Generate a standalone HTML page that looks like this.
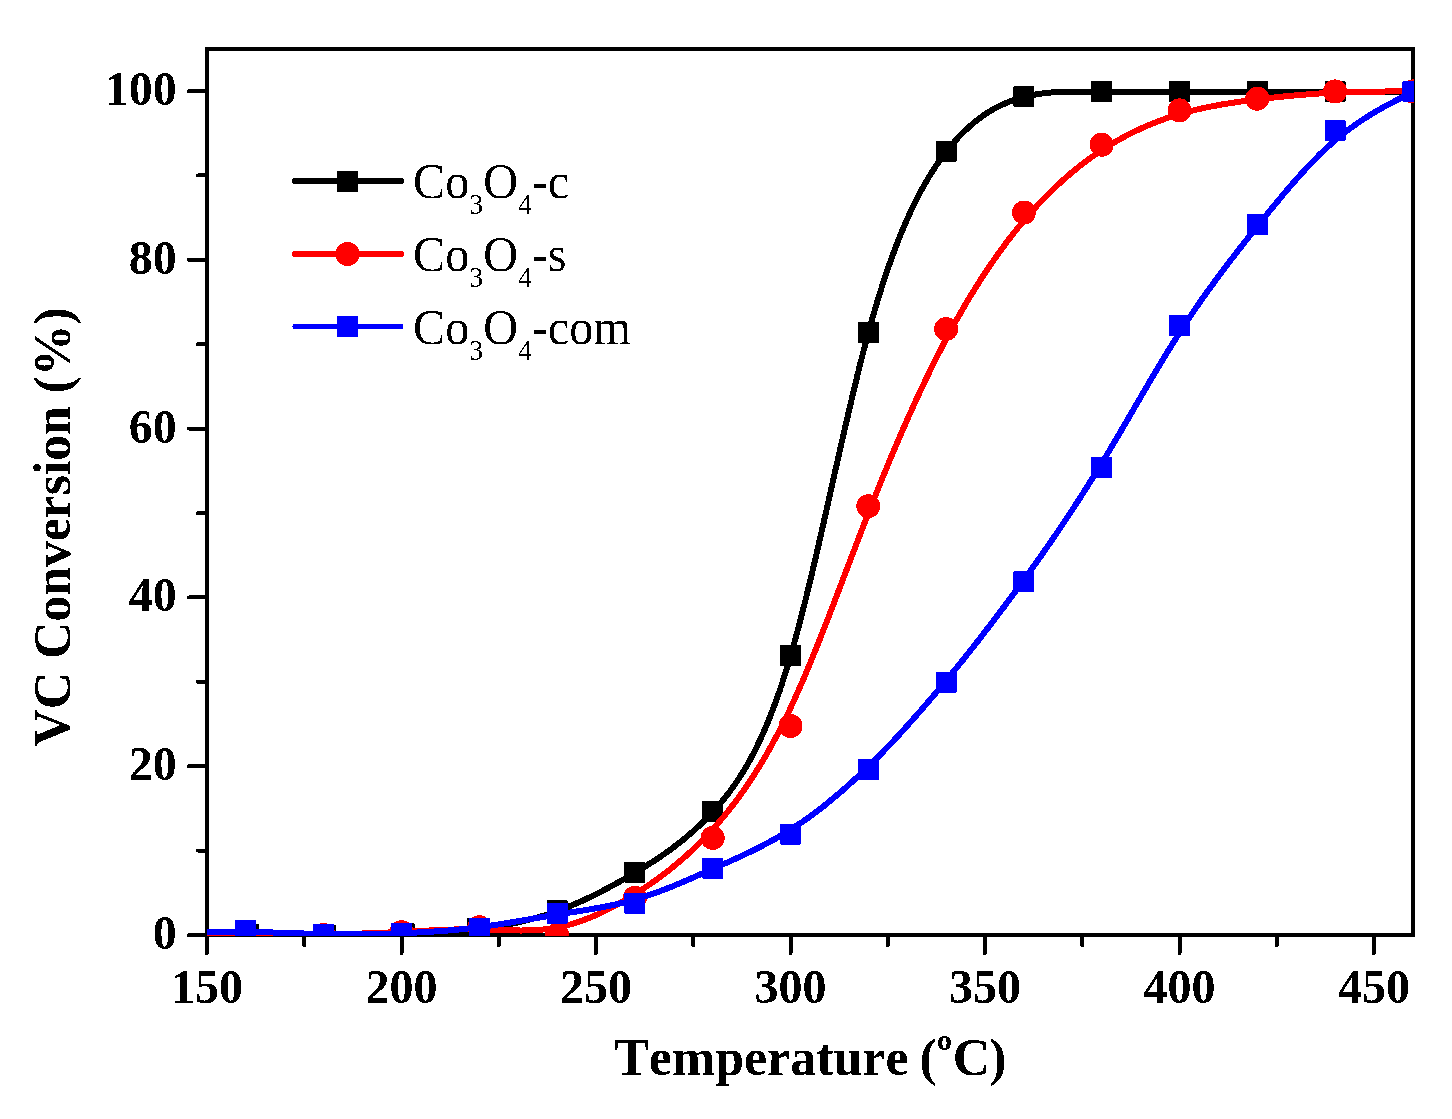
<!DOCTYPE html>
<html><head><meta charset="utf-8"><style>
html,body{margin:0;padding:0;background:#fff;}
svg{display:block;will-change:transform;}
text{font-family:"Liberation Serif",serif;font-kerning:none;}
</style></head><body>
<svg width="1452" height="1119" viewBox="0 0 1452 1119" shape-rendering="crispEdges">
<defs><filter id="cr" x="0" y="0" width="1" height="1" color-interpolation-filters="sRGB"><feComponentTransfer><feFuncA type="discrete" tableValues="0 1"/></feComponentTransfer></filter><clipPath id="pa"><rect x="207" y="47" width="1207" height="889"/></clipPath></defs>
<rect width="1452" height="1119" fill="#fff"/>
<g stroke="#000" stroke-width="4" stroke-linecap="round" fill="none">
<rect x="207" y="49" width="1206" height="886" stroke-linecap="square"/>
<line x1="189" y1="935.0" x2="207" y2="935.0"/>
<line x1="189" y1="766.2" x2="207" y2="766.2"/>
<line x1="189" y1="597.4" x2="207" y2="597.4"/>
<line x1="189" y1="428.6" x2="207" y2="428.6"/>
<line x1="189" y1="259.8" x2="207" y2="259.8"/>
<line x1="189" y1="91.0" x2="207" y2="91.0"/>
<line x1="198" y1="850.6" x2="207" y2="850.6"/>
<line x1="198" y1="681.8" x2="207" y2="681.8"/>
<line x1="198" y1="513.0" x2="207" y2="513.0"/>
<line x1="198" y1="344.2" x2="207" y2="344.2"/>
<line x1="198" y1="175.4" x2="207" y2="175.4"/>
<line x1="207.0" y1="935" x2="207.0" y2="953"/>
<line x1="401.5" y1="935" x2="401.5" y2="953"/>
<line x1="596.0" y1="935" x2="596.0" y2="953"/>
<line x1="790.5" y1="935" x2="790.5" y2="953"/>
<line x1="985.0" y1="935" x2="985.0" y2="953"/>
<line x1="1179.5" y1="935" x2="1179.5" y2="953"/>
<line x1="1374.0" y1="935" x2="1374.0" y2="953"/>
<line x1="304.2" y1="935" x2="304.2" y2="945"/>
<line x1="498.8" y1="935" x2="498.8" y2="945"/>
<line x1="693.2" y1="935" x2="693.2" y2="945"/>
<line x1="887.8" y1="935" x2="887.8" y2="945"/>
<line x1="1082.2" y1="935" x2="1082.2" y2="945"/>
<line x1="1276.8" y1="935" x2="1276.8" y2="945"/>
</g>
<g clip-path="url(#pa)">
<path transform="translate(0,0.6)" d="M168.1,934.2 L169.1,934.2 L170.0,934.1 L171.0,934.1 L171.9,934.1 L172.9,934.1 L173.8,934.1 L174.8,934.1 L175.8,934.1 L176.7,934.1 L177.7,934.1 L178.6,934.1 L179.6,934.1 L180.5,934.1 L181.5,934.1 L182.5,934.1 L183.4,934.1 L184.4,934.1 L185.3,934.1 L186.3,934.1 L187.3,934.1 L188.2,934.1 L189.2,934.1 L190.1,934.1 L191.1,934.1 L192.0,934.0 L193.0,934.0 L194.0,934.0 L194.9,934.0 L195.9,934.0 L196.8,934.0 L197.8,934.0 L198.7,934.0 L199.7,934.0 L200.7,934.0 L201.6,934.0 L202.6,934.0 L203.5,934.0 L204.5,934.0 L205.4,934.0 L206.4,934.0 L207.4,934.0 L208.3,934.0 L209.3,934.0 L210.2,934.0 L211.2,934.0 L212.1,934.0 L213.1,934.0 L214.1,934.0 L215.0,934.0 L216.0,934.0 L216.9,934.0 L217.9,934.0 L218.8,934.0 L219.8,934.0 L220.8,934.0 L221.7,934.0 L222.7,934.0 L223.6,934.0 L224.6,934.0 L225.6,934.0 L226.5,934.0 L227.5,934.0 L228.4,934.0 L229.4,934.0 L230.3,934.0 L231.3,934.0 L232.3,934.1 L233.2,934.1 L234.2,934.1 L235.1,934.1 L236.1,934.1 L237.0,934.1 L238.0,934.1 L239.0,934.1 L239.9,934.1 L240.9,934.1 L241.8,934.1 L242.8,934.1 L243.7,934.1 L244.7,934.1 L245.7,934.2 L246.6,934.2 L247.6,934.2 L248.5,934.2 L249.5,934.2 L250.4,934.2 L251.4,934.2 L252.4,934.2 L253.3,934.2 L254.3,934.3 L255.2,934.3 L256.2,934.3 L257.2,934.3 L258.1,934.3 L259.1,934.3 L260.0,934.3 L261.0,934.3 L261.9,934.4 L262.9,934.4 L263.9,934.4 L264.8,934.4 L265.8,934.4 L266.7,934.4 L267.7,934.4 L268.6,934.5 L269.6,934.5 L270.6,934.5 L271.5,934.5 L272.5,934.5 L273.4,934.5 L274.4,934.5 L275.3,934.6 L276.3,934.6 L277.3,934.6 L278.2,934.6 L279.2,934.6 L280.1,934.6 L281.1,934.6 L282.0,934.7 L283.0,934.7 L284.0,934.7 L284.9,934.7 L285.9,934.7 L286.8,934.7 L287.8,934.7 L288.7,934.7 L289.7,934.8 L290.7,934.8 L291.6,934.8 L292.6,934.8 L293.5,934.8 L294.5,934.8 L295.5,934.8 L296.4,934.8 L297.4,934.9 L298.3,934.9 L299.3,934.9 L300.2,934.9 L301.2,934.9 L302.2,934.9 L303.1,934.9 L304.1,934.9 L305.0,934.9 L306.0,934.9 L306.9,934.9 L307.9,935.0 L308.9,935.0 L309.8,935.0 L310.8,935.0 L311.7,935.0 L312.7,935.0 L313.6,935.0 L314.6,935.0 L315.6,935.0 L316.5,935.0 L317.5,935.0 L318.4,935.0 L319.4,935.0 L320.3,935.0 L321.3,935.0 L322.3,935.0 L323.2,935.0 L324.2,935.0 L325.1,935.0 L326.1,935.0 L327.1,935.0 L328.0,935.0 L329.0,935.0 L329.9,935.0 L330.9,935.0 L331.8,935.0 L332.8,935.0 L333.8,934.9 L334.7,934.9 L335.7,934.9 L336.6,934.9 L337.6,934.9 L338.5,934.9 L339.5,934.9 L340.5,934.9 L341.4,934.9 L342.4,934.9 L343.3,934.8 L344.3,934.8 L345.2,934.8 L346.2,934.8 L347.2,934.8 L348.1,934.8 L349.1,934.7 L350.0,934.7 L351.0,934.7 L351.9,934.7 L352.9,934.7 L353.9,934.7 L354.8,934.6 L355.8,934.6 L356.7,934.6 L357.7,934.6 L358.7,934.6 L359.6,934.5 L360.6,934.5 L361.5,934.5 L362.5,934.5 L363.4,934.5 L364.4,934.4 L365.4,934.4 L366.3,934.4 L367.3,934.4 L368.2,934.3 L369.2,934.3 L370.1,934.3 L371.1,934.3 L372.1,934.2 L373.0,934.2 L374.0,934.2 L374.9,934.2 L375.9,934.1 L376.8,934.1 L377.8,934.1 L378.8,934.0 L379.7,934.0 L380.7,934.0 L381.6,934.0 L382.6,933.9 L383.5,933.9 L384.5,933.9 L385.5,933.8 L386.4,933.8 L387.4,933.8 L388.3,933.8 L389.3,933.7 L390.2,933.7 L391.2,933.7 L392.2,933.6 L393.1,933.6 L394.1,933.6 L395.0,933.5 L396.0,933.5 L397.0,933.5 L397.9,933.4 L398.9,933.4 L399.8,933.4 L400.8,933.3 L401.7,933.3 L402.7,933.3 L403.7,933.2 L404.6,933.2 L405.6,933.2 L406.5,933.1 L407.5,933.1 L408.4,933.1 L409.4,933.0 L410.4,933.0 L411.3,933.0 L412.3,932.9 L413.2,932.9 L414.2,932.9 L415.1,932.8 L416.1,932.8 L417.1,932.7 L418.0,932.7 L419.0,932.7 L419.9,932.6 L420.9,932.6 L421.8,932.5 L422.8,932.5 L423.8,932.5 L424.7,932.4 L425.7,932.4 L426.6,932.3 L427.6,932.3 L428.6,932.2 L429.5,932.2 L430.5,932.2 L431.4,932.1 L432.4,932.1 L433.3,932.0 L434.3,932.0 L435.3,931.9 L436.2,931.9 L437.2,931.8 L438.1,931.7 L439.1,931.7 L440.0,931.6 L441.0,931.6 L442.0,931.5 L442.9,931.5 L443.9,931.4 L444.8,931.3 L445.8,931.3 L446.7,931.2 L447.7,931.2 L448.7,931.1 L449.6,931.0 L450.6,931.0 L451.5,930.9 L452.5,930.8 L453.4,930.7 L454.4,930.7 L455.4,930.6 L456.3,930.5 L457.3,930.4 L458.2,930.4 L459.2,930.3 L460.1,930.2 L461.1,930.1 L462.1,930.0 L463.0,930.0 L464.0,929.9 L464.9,929.8 L465.9,929.7 L466.9,929.6 L467.8,929.5 L468.8,929.4 L469.7,929.3 L470.7,929.2 L471.6,929.1 L472.6,929.0 L473.6,928.9 L474.5,928.8 L475.5,928.7 L476.4,928.6 L477.4,928.5 L478.3,928.4 L479.3,928.2 L480.3,928.1 L481.2,928.0 L482.2,927.9 L483.1,927.8 L484.1,927.6 L485.0,927.5 L486.0,927.4 L487.0,927.3 L487.9,927.1 L488.9,927.0 L489.8,926.9 L490.8,926.7 L491.7,926.6 L492.7,926.4 L493.7,926.3 L494.6,926.1 L495.6,926.0 L496.5,925.8 L497.5,925.7 L498.5,925.5 L499.4,925.4 L500.4,925.2 L501.3,925.0 L502.3,924.9 L503.2,924.7 L504.2,924.5 L505.2,924.4 L506.1,924.2 L507.1,924.0 L508.0,923.8 L509.0,923.6 L509.9,923.5 L510.9,923.3 L511.9,923.1 L512.8,922.9 L513.8,922.7 L514.7,922.5 L515.7,922.3 L516.6,922.1 L517.6,921.9 L518.6,921.7 L519.5,921.4 L520.5,921.2 L521.4,921.0 L522.4,920.8 L523.3,920.6 L524.3,920.3 L525.3,920.1 L526.2,919.9 L527.2,919.6 L528.1,919.4 L529.1,919.1 L530.0,918.9 L531.0,918.6 L532.0,918.4 L532.9,918.1 L533.9,917.9 L534.8,917.6 L535.8,917.3 L536.8,917.1 L537.7,916.8 L538.7,916.5 L539.6,916.2 L540.6,916.0 L541.5,915.7 L542.5,915.4 L543.5,915.1 L544.4,914.8 L545.4,914.5 L546.3,914.2 L547.3,913.9 L548.2,913.6 L549.2,913.3 L550.2,912.9 L551.1,912.6 L552.1,912.3 L553.0,912.0 L554.0,911.6 L554.9,911.3 L555.9,911.0 L556.9,910.6 L557.8,910.3 L558.8,909.9 L559.7,909.6 L560.7,909.2 L561.6,908.8 L562.6,908.5 L563.6,908.1 L564.5,907.7 L565.5,907.3 L566.4,907.0 L567.4,906.6 L568.4,906.2 L569.3,905.8 L570.3,905.4 L571.2,905.0 L572.2,904.6 L573.1,904.2 L574.1,903.8 L575.1,903.4 L576.0,903.0 L577.0,902.5 L577.9,902.1 L578.9,901.7 L579.8,901.3 L580.8,900.8 L581.8,900.4 L582.7,900.0 L583.7,899.5 L584.6,899.1 L585.6,898.6 L586.5,898.2 L587.5,897.7 L588.5,897.3 L589.4,896.8 L590.4,896.4 L591.3,895.9 L592.3,895.4 L593.2,895.0 L594.2,894.5 L595.2,894.0 L596.1,893.5 L597.1,893.0 L598.0,892.6 L599.0,892.1 L599.9,891.6 L600.9,891.1 L601.9,890.6 L602.8,890.1 L603.8,889.6 L604.7,889.1 L605.7,888.6 L606.7,888.1 L607.6,887.6 L608.6,887.1 L609.5,886.5 L610.5,886.0 L611.4,885.5 L612.4,885.0 L613.4,884.5 L614.3,883.9 L615.3,883.4 L616.2,882.9 L617.2,882.3 L618.1,881.8 L619.1,881.3 L620.1,880.7 L621.0,880.2 L622.0,879.6 L622.9,879.1 L623.9,878.6 L624.8,878.0 L625.8,877.5 L626.8,876.9 L627.7,876.3 L628.7,875.8 L629.6,875.2 L630.6,874.7 L631.5,874.1 L632.5,873.5 L633.5,873.0 L634.4,872.4 L635.4,871.8 L636.3,871.3 L637.3,870.7 L638.3,870.1 L639.2,869.5 L640.2,869.0 L641.1,868.4 L642.1,867.8 L643.0,867.2 L644.0,866.6 L645.0,866.0 L645.9,865.4 L646.9,864.8 L647.8,864.2 L648.8,863.6 L649.7,863.0 L650.7,862.4 L651.7,861.8 L652.6,861.2 L653.6,860.6 L654.5,859.9 L655.5,859.3 L656.4,858.7 L657.4,858.1 L658.4,857.4 L659.3,856.8 L660.3,856.1 L661.2,855.5 L662.2,854.8 L663.1,854.2 L664.1,853.5 L665.1,852.8 L666.0,852.1 L667.0,851.5 L667.9,850.8 L668.9,850.1 L669.9,849.4 L670.8,848.7 L671.8,848.0 L672.7,847.3 L673.7,846.6 L674.6,845.8 L675.6,845.1 L676.6,844.4 L677.5,843.6 L678.5,842.9 L679.4,842.1 L680.4,841.4 L681.3,840.6 L682.3,839.8 L683.3,839.1 L684.2,838.3 L685.2,837.5 L686.1,836.7 L687.1,835.9 L688.0,835.1 L689.0,834.2 L690.0,833.4 L690.9,832.6 L691.9,831.7 L692.8,830.9 L693.8,830.0 L694.7,829.2 L695.7,828.3 L696.7,827.4 L697.6,826.5 L698.6,825.6 L699.5,824.7 L700.5,823.8 L701.4,822.9 L702.4,821.9 L703.4,821.0 L704.3,820.1 L705.3,819.1 L706.2,818.1 L707.2,817.2 L708.2,816.2 L709.1,815.2 L710.1,814.2 L711.0,813.2 L712.0,812.1 L712.9,811.1 L713.9,810.1 L714.9,809.0 L715.8,807.9 L716.8,806.9 L717.7,805.8 L718.7,804.7 L719.6,803.6 L720.6,802.4 L721.6,801.3 L722.5,800.1 L723.5,799.0 L724.4,797.8 L725.4,796.6 L726.3,795.4 L727.3,794.2 L728.3,792.9 L729.2,791.7 L730.2,790.4 L731.1,789.1 L732.1,787.8 L733.0,786.4 L734.0,785.1 L735.0,783.7 L735.9,782.3 L736.9,780.9 L737.8,779.5 L738.8,778.0 L739.8,776.5 L740.7,775.0 L741.7,773.5 L742.6,772.0 L743.6,770.4 L744.5,768.8 L745.5,767.2 L746.5,765.6 L747.4,763.9 L748.4,762.2 L749.3,760.5 L750.3,758.7 L751.2,757.0 L752.2,755.2 L753.2,753.3 L754.1,751.5 L755.1,749.6 L756.0,747.7 L757.0,745.7 L757.9,743.8 L758.9,741.8 L759.9,739.7 L760.8,737.7 L761.8,735.6 L762.7,733.4 L763.7,731.3 L764.6,729.1 L765.6,726.8 L766.6,724.6 L767.5,722.3 L768.5,720.0 L769.4,717.6 L770.4,715.2 L771.3,712.7 L772.3,710.3 L773.3,707.7 L774.2,705.2 L775.2,702.6 L776.1,700.0 L777.1,697.3 L778.1,694.6 L779.0,691.9 L780.0,689.1 L780.9,686.2 L781.9,683.4 L782.8,680.5 L783.8,677.5 L784.8,674.5 L785.7,671.5 L786.7,668.4 L787.6,665.3 L788.6,662.1 L789.5,658.9 L790.5,655.6 L791.5,652.3 L792.4,649.0 L793.4,645.6 L794.3,642.2 L795.3,638.7 L796.2,635.2 L797.2,631.6 L798.2,628.0 L799.1,624.4 L800.1,620.7 L801.0,617.0 L802.0,613.3 L802.9,609.5 L803.9,605.7 L804.9,601.9 L805.8,598.0 L806.8,594.2 L807.7,590.2 L808.7,586.3 L809.7,582.3 L810.6,578.3 L811.6,574.3 L812.5,570.3 L813.5,566.2 L814.4,562.1 L815.4,558.0 L816.4,553.9 L817.3,549.8 L818.3,545.6 L819.2,541.5 L820.2,537.3 L821.1,533.1 L822.1,528.9 L823.1,524.7 L824.0,520.4 L825.0,516.2 L825.9,511.9 L826.9,507.7 L827.8,503.4 L828.8,499.2 L829.8,494.9 L830.7,490.6 L831.7,486.4 L832.6,482.1 L833.6,477.8 L834.5,473.6 L835.5,469.3 L836.5,465.0 L837.4,460.8 L838.4,456.5 L839.3,452.3 L840.3,448.0 L841.2,443.8 L842.2,439.6 L843.2,435.4 L844.1,431.2 L845.1,427.0 L846.0,422.8 L847.0,418.7 L848.0,414.6 L848.9,410.4 L849.9,406.3 L850.8,402.3 L851.8,398.2 L852.7,394.2 L853.7,390.1 L854.7,386.1 L855.6,382.2 L856.6,378.2 L857.5,374.3 L858.5,370.4 L859.4,366.6 L860.4,362.7 L861.4,358.9 L862.3,355.2 L863.3,351.4 L864.2,347.7 L865.2,344.0 L866.1,340.4 L867.1,336.8 L868.1,333.3 L869.0,329.7 L870.0,326.3 L870.9,322.8 L871.9,319.4 L872.8,316.1 L873.8,312.7 L874.8,309.5 L875.7,306.2 L876.7,303.0 L877.6,299.8 L878.6,296.7 L879.6,293.6 L880.5,290.5 L881.5,287.5 L882.4,284.5 L883.4,281.5 L884.3,278.6 L885.3,275.7 L886.3,272.9 L887.2,270.1 L888.2,267.3 L889.1,264.5 L890.1,261.8 L891.0,259.1 L892.0,256.5 L893.0,253.8 L893.9,251.3 L894.9,248.7 L895.8,246.2 L896.8,243.7 L897.7,241.2 L898.7,238.8 L899.7,236.4 L900.6,234.0 L901.6,231.7 L902.5,229.4 L903.5,227.1 L904.4,224.8 L905.4,222.6 L906.4,220.4 L907.3,218.3 L908.3,216.1 L909.2,214.0 L910.2,211.9 L911.1,209.9 L912.1,207.9 L913.1,205.9 L914.0,203.9 L915.0,202.0 L915.9,200.0 L916.9,198.1 L917.9,196.3 L918.8,194.4 L919.8,192.6 L920.7,190.8 L921.7,189.0 L922.6,187.3 L923.6,185.6 L924.6,183.9 L925.5,182.2 L926.5,180.5 L927.4,178.9 L928.4,177.3 L929.3,175.7 L930.3,174.2 L931.3,172.6 L932.2,171.1 L933.2,169.6 L934.1,168.1 L935.1,166.7 L936.0,165.2 L937.0,163.8 L938.0,162.4 L938.9,161.0 L939.9,159.7 L940.8,158.3 L941.8,157.0 L942.7,155.7 L943.7,154.4 L944.7,153.1 L945.6,151.9 L946.6,150.6 L947.5,149.4 L948.5,148.2 L949.5,147.0 L950.4,145.9 L951.4,144.7 L952.3,143.6 L953.3,142.5 L954.2,141.4 L955.2,140.3 L956.2,139.2 L957.1,138.2 L958.1,137.1 L959.0,136.1 L960.0,135.1 L960.9,134.1 L961.9,133.1 L962.9,132.2 L963.8,131.2 L964.8,130.3 L965.7,129.4 L966.7,128.5 L967.6,127.6 L968.6,126.7 L969.6,125.8 L970.5,125.0 L971.5,124.2 L972.4,123.3 L973.4,122.5 L974.3,121.7 L975.3,121.0 L976.3,120.2 L977.2,119.4 L978.2,118.7 L979.1,118.0 L980.1,117.3 L981.1,116.6 L982.0,115.9 L983.0,115.2 L983.9,114.5 L984.9,113.9 L985.8,113.3 L986.8,112.6 L987.8,112.0 L988.7,111.4 L989.7,110.8 L990.6,110.2 L991.6,109.7 L992.5,109.1 L993.5,108.6 L994.5,108.0 L995.4,107.5 L996.4,107.0 L997.3,106.5 L998.3,106.0 L999.2,105.5 L1000.2,105.1 L1001.2,104.6 L1002.1,104.2 L1003.1,103.7 L1004.0,103.3 L1005.0,102.9 L1005.9,102.5 L1006.9,102.1 L1007.9,101.7 L1008.8,101.3 L1009.8,100.9 L1010.7,100.6 L1011.7,100.2 L1012.6,99.8 L1013.6,99.5 L1014.6,99.2 L1015.5,98.9 L1016.5,98.6 L1017.4,98.2 L1018.4,98.0 L1019.4,97.7 L1020.3,97.4 L1021.3,97.1 L1022.2,96.8 L1023.2,96.6 L1024.1,96.3 L1025.1,96.1 L1026.1,95.9 L1027.0,95.6 L1028.0,95.4 L1028.9,95.2 L1029.9,95.0 L1030.8,94.8 L1031.8,94.6 L1032.8,94.4 L1033.7,94.2 L1034.7,94.0 L1035.6,93.9 L1036.6,93.7 L1037.5,93.6 L1038.5,93.4 L1039.5,93.3 L1040.4,93.1 L1041.4,93.0 L1042.3,92.9 L1043.3,92.7 L1044.2,92.6 L1045.2,92.5 L1046.2,92.4 L1047.1,92.3 L1048.1,92.2 L1049.0,92.1 L1050.0,92.0 L1051.0,91.9 L1051.9,91.8 L1052.9,91.8 L1053.8,91.7 L1054.8,91.6 L1055.7,91.6 L1056.7,91.5 L1057.7,91.5 L1058.6,91.4 L1059.6,91.4 L1060.5,91.3 L1061.5,91.3 L1062.4,91.2 L1063.4,91.2 L1064.4,91.2 L1065.3,91.1 L1066.3,91.1 L1067.2,91.1 L1068.2,91.1 L1069.1,91.1 L1070.1,91.0 L1071.1,91.0 L1072.0,91.0 L1073.0,91.0 L1073.9,91.0 L1074.9,91.0 L1075.8,91.0 L1076.8,91.0 L1077.8,91.0 L1078.7,91.0 L1079.7,91.0 L1080.6,91.0 L1081.6,91.1 L1082.5,91.1 L1083.5,91.1 L1084.5,91.1 L1085.4,91.1 L1086.4,91.1 L1087.3,91.1 L1088.3,91.2 L1089.3,91.2 L1090.2,91.2 L1091.2,91.2 L1092.1,91.2 L1093.1,91.2 L1094.0,91.3 L1095.0,91.3 L1096.0,91.3 L1096.9,91.3 L1097.9,91.3 L1098.8,91.4 L1099.8,91.4 L1100.7,91.4 L1101.7,91.4 L1102.7,91.4 L1103.6,91.5 L1104.6,91.5 L1105.5,91.5 L1106.5,91.5 L1107.4,91.5 L1108.4,91.5 L1109.4,91.5 L1110.3,91.5 L1111.3,91.6 L1112.2,91.6 L1113.2,91.6 L1114.1,91.6 L1115.1,91.6 L1116.1,91.6 L1117.0,91.6 L1118.0,91.6 L1118.9,91.6 L1119.9,91.6 L1120.9,91.6 L1121.8,91.6 L1122.8,91.6 L1123.7,91.6 L1124.7,91.6 L1125.6,91.7 L1126.6,91.7 L1127.6,91.7 L1128.5,91.7 L1129.5,91.7 L1130.4,91.7 L1131.4,91.7 L1132.3,91.7 L1133.3,91.7 L1134.3,91.7 L1135.2,91.7 L1136.2,91.7 L1137.1,91.7 L1138.1,91.7 L1139.0,91.6 L1140.0,91.6 L1141.0,91.6 L1141.9,91.6 L1142.9,91.6 L1143.8,91.6 L1144.8,91.6 L1145.7,91.6 L1146.7,91.6 L1147.7,91.6 L1148.6,91.6 L1149.6,91.6 L1150.5,91.6 L1151.5,91.6 L1152.4,91.6 L1153.4,91.6 L1154.4,91.6 L1155.3,91.6 L1156.3,91.6 L1157.2,91.6 L1158.2,91.6 L1159.2,91.5 L1160.1,91.5 L1161.1,91.5 L1162.0,91.5 L1163.0,91.5 L1163.9,91.5 L1164.9,91.5 L1165.9,91.5 L1166.8,91.5 L1167.8,91.5 L1168.7,91.5 L1169.7,91.5 L1170.6,91.5 L1171.6,91.5 L1172.6,91.5 L1173.5,91.5 L1174.5,91.4 L1175.4,91.4 L1176.4,91.4 L1177.3,91.4 L1178.3,91.4 L1179.3,91.4 L1180.2,91.4 L1181.2,91.4 L1182.1,91.4 L1183.1,91.4 L1184.0,91.4 L1185.0,91.4 L1186.0,91.4 L1186.9,91.4 L1187.9,91.4 L1188.8,91.4 L1189.8,91.4 L1190.8,91.4 L1191.7,91.4 L1192.7,91.4 L1193.6,91.4 L1194.6,91.4 L1195.5,91.4 L1196.5,91.4 L1197.5,91.4 L1198.4,91.4 L1199.4,91.4 L1200.3,91.4 L1201.3,91.4 L1202.2,91.4 L1203.2,91.4 L1204.2,91.4 L1205.1,91.4 L1206.1,91.4 L1207.0,91.4 L1208.0,91.4 L1208.9,91.4 L1209.9,91.4 L1210.9,91.4 L1211.8,91.4 L1212.8,91.4 L1213.7,91.4 L1214.7,91.4 L1215.6,91.4 L1216.6,91.4 L1217.6,91.4 L1218.5,91.4 L1219.5,91.4 L1220.4,91.4 L1221.4,91.4 L1222.3,91.4 L1223.3,91.4 L1224.3,91.4 L1225.2,91.4 L1226.2,91.4 L1227.1,91.4 L1228.1,91.4 L1229.1,91.4 L1230.0,91.4 L1231.0,91.4 L1231.9,91.4 L1232.9,91.4 L1233.8,91.4 L1234.8,91.4 L1235.8,91.4 L1236.7,91.4 L1237.7,91.4 L1238.6,91.4 L1239.6,91.4 L1240.5,91.4 L1241.5,91.4 L1242.5,91.4 L1243.4,91.4 L1244.4,91.4 L1245.3,91.4 L1246.3,91.4 L1247.2,91.4 L1248.2,91.4 L1249.2,91.4 L1250.1,91.4 L1251.1,91.4 L1252.0,91.4 L1253.0,91.4 L1253.9,91.4 L1254.9,91.4 L1255.9,91.4 L1256.8,91.4 L1257.8,91.4 L1258.7,91.4 L1259.7,91.4 L1260.7,91.4 L1261.6,91.4 L1262.6,91.4 L1263.5,91.4 L1264.5,91.4 L1265.4,91.4 L1266.4,91.4 L1267.4,91.4 L1268.3,91.4 L1269.3,91.4 L1270.2,91.4 L1271.2,91.4 L1272.1,91.4 L1273.1,91.4 L1274.1,91.4 L1275.0,91.4 L1276.0,91.4 L1276.9,91.4 L1277.9,91.4 L1278.8,91.4 L1279.8,91.4 L1280.8,91.4 L1281.7,91.4 L1282.7,91.4 L1283.6,91.4 L1284.6,91.4 L1285.5,91.4 L1286.5,91.4 L1287.5,91.4 L1288.4,91.4 L1289.4,91.4 L1290.3,91.4 L1291.3,91.4 L1292.3,91.4 L1293.2,91.4 L1294.2,91.4 L1295.1,91.4 L1296.1,91.4 L1297.0,91.4 L1298.0,91.4 L1299.0,91.4 L1299.9,91.4 L1300.9,91.4 L1301.8,91.4 L1302.8,91.4 L1303.7,91.4 L1304.7,91.4 L1305.7,91.4 L1306.6,91.4 L1307.6,91.4 L1308.5,91.4 L1309.5,91.4 L1310.4,91.4 L1311.4,91.4 L1312.4,91.4 L1313.3,91.4 L1314.3,91.4 L1315.2,91.4 L1316.2,91.4 L1317.1,91.4 L1318.1,91.4 L1319.1,91.4 L1320.0,91.4 L1321.0,91.4 L1321.9,91.4 L1322.9,91.4 L1323.8,91.4 L1324.8,91.4 L1325.8,91.4 L1326.7,91.4 L1327.7,91.4 L1328.6,91.4 L1329.6,91.4 L1330.6,91.4 L1331.5,91.4 L1332.5,91.4 L1333.4,91.4 L1334.4,91.4 L1335.3,91.4 L1336.3,91.4 L1337.3,91.4 L1338.2,91.4 L1339.2,91.4 L1340.1,91.4 L1341.1,91.4 L1342.0,91.4 L1343.0,91.4 L1344.0,91.4 L1344.9,91.4 L1345.9,91.4 L1346.8,91.4 L1347.8,91.4 L1348.7,91.4 L1349.7,91.4 L1350.7,91.4 L1351.6,91.4 L1352.6,91.4 L1353.5,91.4 L1354.5,91.4 L1355.4,91.4 L1356.4,91.4 L1357.4,91.4 L1358.3,91.4 L1359.3,91.4 L1360.2,91.4 L1361.2,91.4 L1362.2,91.4 L1363.1,91.4 L1364.1,91.4 L1365.0,91.4 L1366.0,91.4 L1366.9,91.4 L1367.9,91.4 L1368.9,91.4 L1369.8,91.4 L1370.8,91.4 L1371.7,91.4 L1372.7,91.4 L1373.6,91.4 L1374.6,91.4 L1375.6,91.4 L1376.5,91.4 L1377.5,91.4 L1378.4,91.4 L1379.4,91.4 L1380.3,91.4 L1381.3,91.4 L1382.3,91.4 L1383.2,91.4 L1384.2,91.4 L1385.1,91.4 L1386.1,91.4 L1387.0,91.4 L1388.0,91.4 L1389.0,91.4 L1389.9,91.4 L1390.9,91.4 L1391.8,91.4 L1392.8,91.4 L1393.7,91.4 L1394.7,91.4 L1395.7,91.4 L1396.6,91.4 L1397.6,91.4 L1398.5,91.4 L1399.5,91.4 L1400.5,91.4 L1401.4,91.4 L1402.4,91.4 L1403.3,91.4 L1404.3,91.4 L1405.2,91.4 L1406.2,91.4 L1407.2,91.4 L1408.1,91.4 L1409.1,91.4 L1410.0,91.4 L1411.0,91.4 L1411.9,91.4 L1412.9,91.4" stroke="#000" stroke-width="6" fill="none" stroke-linejoin="round"/>
<rect x="237.9" y="923.7" width="21" height="21" rx="1" fill="#000"/>
<rect x="315.2" y="924.5" width="21" height="21" rx="1" fill="#000"/>
<rect x="393.5" y="922.8" width="21" height="21" rx="1" fill="#000"/>
<rect x="467.3" y="917.7" width="21" height="21" rx="1" fill="#000"/>
<rect x="546.6" y="900.0" width="21" height="21" rx="1" fill="#000"/>
<rect x="624.4" y="861.6" width="21" height="21" rx="1" fill="#000"/>
<rect x="702.2" y="800.9" width="21" height="21" rx="1" fill="#000"/>
<rect x="780.0" y="645.1" width="21" height="21" rx="1" fill="#000"/>
<rect x="857.8" y="321.9" width="21" height="21" rx="1" fill="#000"/>
<rect x="935.6" y="140.8" width="21" height="21" rx="1" fill="#000"/>
<rect x="1013.4" y="85.9" width="21" height="21" rx="1" fill="#000"/>
<rect x="1091.2" y="80.9" width="21" height="21" rx="1" fill="#000"/>
<rect x="1169.0" y="80.9" width="21" height="21" rx="1" fill="#000"/>
<rect x="1246.8" y="80.9" width="21" height="21" rx="1" fill="#000"/>
<rect x="1324.6" y="80.9" width="21" height="21" rx="1" fill="#000"/>
<rect x="1402.4" y="80.9" width="21" height="21" rx="1" fill="#000"/>
<path d="M168.1,935.0 L168.1,935.0 L168.1,935.0 L168.1,935.0 L168.1,935.0 L168.1,935.0 L168.1,935.0 L168.2,935.0 L168.2,935.0 L168.2,935.0 L168.3,935.0 L168.4,935.0 L168.5,935.0 L168.5,935.0 L168.7,935.0 L168.8,935.0 L168.9,935.0 L169.1,935.0 L169.3,935.0 L169.5,935.0 L169.7,935.0 L170.0,935.0 L170.3,935.0 L170.6,935.0 L170.9,935.0 L171.3,935.0 L171.7,935.0 L172.1,935.0 L172.5,935.0 L173.0,935.0 L173.6,935.0 L174.1,935.0 L174.7,935.0 L175.4,935.0 L176.1,935.0 L176.8,935.0 L177.6,935.0 L178.4,935.0 L179.2,935.0 L180.1,935.0 L181.1,935.0 L182.1,935.0 L183.1,935.0 L184.2,935.0 L185.3,935.0 L186.5,935.0 L187.7,935.0 L189.0,935.0 L190.3,935.0 L191.6,935.0 L193.0,935.0 L194.4,935.0 L195.9,935.0 L197.4,935.0 L198.9,935.0 L200.4,935.0 L202.0,935.0 L203.6,935.0 L205.3,935.0 L206.9,935.0 L208.6,935.0 L210.3,935.0 L212.1,935.0 L213.8,935.0 L215.6,935.0 L217.4,935.0 L219.2,935.0 L221.1,935.0 L222.9,935.0 L224.8,935.0 L226.7,935.0 L228.5,935.0 L230.4,935.0 L232.4,935.0 L234.3,935.0 L236.2,935.0 L238.1,935.0 L240.1,935.0 L242.0,935.0 L244.0,935.0 L245.9,935.0 L247.8,935.0 L249.8,935.0 L251.7,935.0 L253.7,935.0 L255.6,935.0 L257.6,935.0 L259.5,935.0 L261.5,935.0 L263.4,935.0 L265.4,935.0 L267.3,935.0 L269.2,935.0 L271.2,935.0 L273.1,935.0 L275.1,935.0 L277.0,935.0 L279.0,935.0 L280.9,935.0 L282.9,935.0 L284.8,934.9 L286.7,934.9 L288.7,934.9 L290.6,934.9 L292.6,934.9 L294.5,934.9 L296.5,934.9 L298.4,934.9 L300.4,934.8 L302.3,934.8 L304.2,934.8 L306.2,934.8 L308.1,934.8 L310.1,934.7 L312.0,934.7 L314.0,934.7 L315.9,934.7 L317.9,934.6 L319.8,934.6 L321.8,934.6 L323.7,934.5 L325.6,934.5 L327.6,934.5 L329.5,934.4 L331.5,934.4 L333.4,934.3 L335.4,934.3 L337.3,934.2 L339.3,934.2 L341.2,934.2 L343.1,934.1 L345.1,934.0 L347.0,934.0 L349.0,933.9 L350.9,933.9 L352.9,933.8 L354.8,933.8 L356.8,933.7 L358.7,933.6 L360.7,933.6 L362.6,933.5 L364.5,933.4 L366.5,933.4 L368.4,933.3 L370.4,933.2 L372.3,933.1 L374.3,933.1 L376.2,933.0 L378.2,932.9 L380.1,932.8 L382.0,932.7 L384.0,932.7 L385.9,932.6 L387.9,932.5 L389.8,932.4 L391.8,932.3 L393.7,932.2 L395.7,932.1 L397.6,932.0 L399.6,931.9 L401.5,931.8 L403.4,931.8 L405.4,931.7 L407.3,931.6 L409.3,931.5 L411.2,931.4 L413.2,931.3 L415.1,931.1 L417.1,931.0 L419.0,930.9 L420.9,930.8 L422.9,930.8 L424.8,930.7 L426.8,930.6 L428.7,930.5 L430.7,930.4 L432.6,930.3 L434.6,930.2 L436.5,930.1 L438.5,930.0 L440.4,929.9 L442.3,929.9 L444.3,929.8 L446.2,929.7 L448.2,929.7 L450.1,929.6 L452.1,929.5 L454.0,929.5 L456.0,929.4 L457.9,929.4 L459.8,929.4 L461.8,929.3 L463.7,929.3 L465.7,929.3 L467.6,929.3 L469.6,929.3 L471.5,929.3 L473.5,929.3 L475.4,929.3 L477.4,929.3 L479.3,929.4 L481.2,929.4 L483.2,929.4 L485.1,929.5 L487.1,929.6 L489.0,929.6 L491.0,929.7 L492.9,929.7 L494.9,929.8 L496.8,929.9 L498.8,930.0 L500.7,930.0 L502.6,930.1 L504.6,930.2 L506.5,930.2 L508.5,930.3 L510.4,930.3 L512.4,930.4 L514.3,930.4 L516.3,930.4 L518.2,930.4 L520.1,930.5 L522.1,930.5 L524.0,930.4 L526.0,930.4 L527.9,930.4 L529.9,930.3 L531.8,930.2 L533.8,930.2 L535.7,930.1 L537.7,929.9 L539.6,929.8 L541.5,929.6 L543.5,929.5 L545.4,929.2 L547.4,929.0 L549.3,928.8 L551.3,928.5 L553.2,928.2 L555.2,927.9 L557.1,927.5 L559.0,927.1 L561.0,926.7 L562.9,926.3 L564.9,925.8 L566.8,925.3 L568.8,924.8 L570.7,924.3 L572.7,923.7 L574.6,923.1 L576.6,922.5 L578.5,921.9 L580.4,921.2 L582.4,920.5 L584.3,919.8 L586.3,919.0 L588.2,918.3 L590.2,917.5 L592.1,916.7 L594.1,915.9 L596.0,915.0 L597.9,914.2 L599.9,913.3 L601.8,912.4 L603.8,911.4 L605.7,910.5 L607.7,909.5 L609.6,908.5 L611.6,907.5 L613.5,906.5 L615.5,905.4 L617.4,904.4 L619.3,903.3 L621.3,902.2 L623.2,901.1 L625.2,899.9 L627.1,898.8 L629.1,897.6 L631.0,896.5 L633.0,895.3 L634.9,894.1 L636.8,892.8 L638.8,891.6 L640.7,890.4 L642.7,889.1 L644.6,887.8 L646.6,886.5 L648.5,885.2 L650.5,883.9 L652.4,882.5 L654.4,881.1 L656.3,879.8 L658.2,878.4 L660.2,876.9 L662.1,875.5 L664.1,874.0 L666.0,872.5 L668.0,871.0 L669.9,869.5 L671.9,867.9 L673.8,866.3 L675.7,864.7 L677.7,863.1 L679.6,861.5 L681.6,859.8 L683.5,858.1 L685.5,856.4 L687.4,854.6 L689.4,852.8 L691.3,851.0 L693.2,849.2 L695.2,847.3 L697.1,845.5 L699.1,843.5 L701.0,841.6 L703.0,839.6 L704.9,837.6 L706.9,835.6 L708.8,833.5 L710.8,831.4 L712.7,829.3 L714.6,827.1 L716.6,824.9 L718.5,822.7 L720.5,820.4 L722.4,818.1 L724.4,815.8 L726.3,813.4 L728.3,811.0 L730.2,808.5 L732.1,806.0 L734.1,803.5 L736.0,800.9 L738.0,798.3 L739.9,795.6 L741.9,792.9 L743.8,790.2 L745.8,787.3 L747.7,784.5 L749.7,781.6 L751.6,778.7 L753.5,775.7 L755.5,772.6 L757.4,769.5 L759.4,766.4 L761.3,763.1 L763.3,759.9 L765.2,756.6 L767.2,753.2 L769.1,749.8 L771.0,746.3 L773.0,742.7 L774.9,739.1 L776.9,735.5 L778.8,731.7 L780.8,728.0 L782.7,724.1 L784.7,720.2 L786.6,716.2 L788.6,712.2 L790.5,708.0 L792.4,703.9 L794.4,699.6 L796.3,695.3 L798.3,690.9 L800.2,686.5 L802.2,682.0 L804.1,677.5 L806.1,672.9 L808.0,668.3 L810.0,663.6 L811.9,658.9 L813.8,654.1 L815.8,649.3 L817.7,644.5 L819.7,639.6 L821.6,634.7 L823.6,629.7 L825.5,624.8 L827.5,619.8 L829.4,614.8 L831.3,609.7 L833.3,604.7 L835.2,599.6 L837.2,594.5 L839.1,589.4 L841.1,584.3 L843.0,579.2 L845.0,574.1 L846.9,569.0 L848.8,563.9 L850.8,558.8 L852.7,553.7 L854.7,548.6 L856.6,543.5 L858.6,538.4 L860.5,533.4 L862.5,528.3 L864.4,523.3 L866.4,518.3 L868.3,513.3 L870.2,508.4 L872.2,503.5 L874.1,498.6 L876.1,493.7 L878.0,488.9 L880.0,484.1 L881.9,479.3 L883.9,474.5 L885.8,469.8 L887.8,465.1 L889.7,460.4 L891.6,455.8 L893.6,451.2 L895.5,446.6 L897.5,442.0 L899.4,437.5 L901.4,433.0 L903.3,428.6 L905.3,424.2 L907.2,419.8 L909.1,415.4 L911.1,411.1 L913.0,406.8 L915.0,402.5 L916.9,398.3 L918.9,394.1 L920.8,390.0 L922.8,385.8 L924.7,381.8 L926.7,377.7 L928.6,373.7 L930.5,369.7 L932.5,365.8 L934.4,361.8 L936.4,358.0 L938.3,354.1 L940.3,350.3 L942.2,346.6 L944.2,342.8 L946.1,339.1 L948.0,335.5 L950.0,331.9 L951.9,328.3 L953.9,324.8 L955.8,321.2 L957.8,317.8 L959.7,314.4 L961.7,311.0 L963.6,307.6 L965.5,304.3 L967.5,301.0 L969.4,297.8 L971.4,294.5 L973.3,291.4 L975.3,288.2 L977.2,285.1 L979.2,282.1 L981.1,279.0 L983.1,276.0 L985.0,273.1 L986.9,270.1 L988.9,267.2 L990.8,264.4 L992.8,261.5 L994.7,258.7 L996.7,256.0 L998.6,253.2 L1000.6,250.5 L1002.5,247.9 L1004.5,245.2 L1006.4,242.6 L1008.3,240.1 L1010.3,237.5 L1012.2,235.0 L1014.2,232.5 L1016.1,230.1 L1018.1,227.7 L1020.0,225.3 L1022.0,223.0 L1023.9,220.6 L1025.8,218.3 L1027.8,216.1 L1029.7,213.9 L1031.7,211.7 L1033.6,209.5 L1035.6,207.4 L1037.5,205.2 L1039.5,203.2 L1041.4,201.1 L1043.3,199.1 L1045.3,197.1 L1047.2,195.1 L1049.2,193.2 L1051.1,191.3 L1053.1,189.4 L1055.0,187.5 L1057.0,185.7 L1058.9,183.9 L1060.9,182.1 L1062.8,180.3 L1064.7,178.6 L1066.7,176.9 L1068.6,175.2 L1070.6,173.5 L1072.5,171.9 L1074.5,170.3 L1076.4,168.7 L1078.4,167.2 L1080.3,165.6 L1082.2,164.1 L1084.2,162.6 L1086.1,161.2 L1088.1,159.7 L1090.0,158.3 L1092.0,156.9 L1093.9,155.6 L1095.9,154.2 L1097.8,152.9 L1099.8,151.6 L1101.7,150.3 L1103.6,149.0 L1105.6,147.8 L1107.5,146.5 L1109.5,145.3 L1111.4,144.2 L1113.4,143.0 L1115.3,141.8 L1117.3,140.7 L1119.2,139.6 L1121.2,138.5 L1123.1,137.5 L1125.0,136.4 L1127.0,135.4 L1128.9,134.4 L1130.9,133.4 L1132.8,132.4 L1134.8,131.5 L1136.7,130.5 L1138.7,129.6 L1140.6,128.7 L1142.5,127.8 L1144.5,127.0 L1146.4,126.1 L1148.4,125.3 L1150.3,124.5 L1152.3,123.7 L1154.2,122.9 L1156.2,122.1 L1158.1,121.4 L1160.1,120.7 L1162.0,119.9 L1163.9,119.2 L1165.9,118.5 L1167.8,117.9 L1169.8,117.2 L1171.7,116.6 L1173.7,116.0 L1175.6,115.3 L1177.6,114.7 L1179.5,114.2 L1181.4,113.6 L1183.4,113.0 L1185.3,112.5 L1187.3,112.0 L1189.2,111.5 L1191.2,111.0 L1193.1,110.5 L1195.1,110.0 L1197.0,109.5 L1198.9,109.1 L1200.9,108.6 L1202.8,108.2 L1204.8,107.8 L1206.7,107.4 L1208.7,107.0 L1210.6,106.6 L1212.6,106.2 L1214.5,105.8 L1216.5,105.5 L1218.4,105.1 L1220.3,104.8 L1222.3,104.4 L1224.2,104.1 L1226.2,103.8 L1228.1,103.5 L1230.1,103.2 L1232.0,102.9 L1234.0,102.6 L1235.9,102.3 L1237.8,102.0 L1239.8,101.7 L1241.7,101.4 L1243.7,101.2 L1245.6,100.9 L1247.6,100.7 L1249.5,100.4 L1251.5,100.2 L1253.4,99.9 L1255.4,99.7 L1257.3,99.4 L1259.2,99.2 L1261.2,99.0 L1263.1,98.7 L1265.1,98.5 L1267.0,98.3 L1269.0,98.1 L1270.9,97.8 L1272.9,97.6 L1274.8,97.4 L1276.8,97.2 L1278.7,97.0 L1280.6,96.8 L1282.6,96.6 L1284.5,96.4 L1286.5,96.2 L1288.4,96.0 L1290.4,95.8 L1292.3,95.6 L1294.3,95.5 L1296.2,95.3 L1298.1,95.1 L1300.1,95.0 L1302.0,94.8 L1304.0,94.6 L1305.9,94.5 L1307.9,94.3 L1309.8,94.2 L1311.8,94.0 L1313.7,93.9 L1315.7,93.8 L1317.6,93.6 L1319.5,93.5 L1321.5,93.4 L1323.4,93.3 L1325.4,93.1 L1327.3,93.0 L1329.3,92.9 L1331.2,92.8 L1333.2,92.7 L1335.1,92.6 L1337.0,92.5 L1339.0,92.5 L1340.9,92.4 L1342.9,92.3 L1344.8,92.2 L1346.7,92.2 L1348.6,92.1 L1350.6,92.0 L1352.5,92.0 L1354.3,91.9 L1356.2,91.9 L1358.1,91.8 L1359.9,91.8 L1361.8,91.8 L1363.6,91.7 L1365.4,91.7 L1367.2,91.7 L1368.9,91.6 L1370.7,91.6 L1372.4,91.6 L1374.1,91.6 L1375.7,91.5 L1377.4,91.5 L1379.0,91.5 L1380.6,91.5 L1382.1,91.5 L1383.6,91.5 L1385.1,91.5 L1386.6,91.4 L1388.0,91.4 L1389.4,91.4 L1390.7,91.4 L1392.0,91.4 L1393.3,91.4 L1394.5,91.4 L1395.7,91.4 L1396.8,91.4 L1397.9,91.4 L1398.9,91.4 L1399.9,91.4 L1400.9,91.4 L1401.8,91.4 L1402.7,91.4 L1403.5,91.4 L1404.3,91.4 L1405.0,91.4 L1405.7,91.4 L1406.4,91.4 L1407.0,91.4 L1407.6,91.4 L1408.1,91.4 L1408.6,91.4 L1409.1,91.4 L1409.5,91.4 L1409.9,91.4 L1410.2,91.4 L1410.6,91.4 L1410.9,91.4 L1411.2,91.4 L1411.4,91.4 L1411.6,91.4 L1411.8,91.4 L1412.0,91.4 L1412.2,91.4 L1412.3,91.4 L1412.4,91.4 L1412.5,91.4 L1412.6,91.4 L1412.7,91.4 L1412.7,91.4 L1412.8,91.4 L1412.8,91.4 L1412.9,91.4 L1412.9,91.4 L1412.9,91.4 L1412.9,91.4 L1412.9,91.4 L1412.9,91.4 L1412.9,91.4" stroke="#f00" stroke-width="6" fill="none" stroke-linejoin="round"/>
<circle cx="245.9" cy="935.0" r="12" fill="#f00"/>
<circle cx="323.7" cy="935.0" r="12" fill="#f00"/>
<circle cx="401.5" cy="932.2" r="12" fill="#f00"/>
<circle cx="479.3" cy="927.2" r="12" fill="#f00"/>
<circle cx="557.1" cy="935.0" r="12" fill="#f00"/>
<circle cx="634.9" cy="897.9" r="12" fill="#f00"/>
<circle cx="712.7" cy="837.9" r="12" fill="#f00"/>
<circle cx="790.5" cy="726.0" r="12" fill="#f00"/>
<circle cx="868.3" cy="506.2" r="12" fill="#f00"/>
<circle cx="946.1" cy="329.0" r="12" fill="#f00"/>
<circle cx="1023.9" cy="212.5" r="12" fill="#f00"/>
<circle cx="1101.7" cy="144.7" r="12" fill="#f00"/>
<circle cx="1179.5" cy="110.4" r="12" fill="#f00"/>
<circle cx="1257.3" cy="98.7" r="12" fill="#f00"/>
<circle cx="1335.1" cy="91.4" r="12" fill="#f00"/>
<circle cx="1412.9" cy="91.4" r="12" fill="#f00"/>
<path transform="translate(0,0.6)" d="M168.1,932.9 L168.1,932.9 L168.1,932.9 L168.1,932.9 L168.1,932.9 L168.1,932.9 L168.1,932.9 L168.2,932.9 L168.2,932.9 L168.2,932.9 L168.3,932.9 L168.4,932.9 L168.5,932.9 L168.5,932.9 L168.7,932.9 L168.8,932.9 L168.9,932.9 L169.1,932.9 L169.3,932.9 L169.5,932.8 L169.7,932.8 L170.0,932.8 L170.3,932.8 L170.6,932.8 L170.9,932.8 L171.3,932.8 L171.7,932.8 L172.1,932.8 L172.5,932.7 L173.0,932.7 L173.6,932.7 L174.1,932.7 L174.7,932.7 L175.4,932.6 L176.1,932.6 L176.8,932.6 L177.6,932.6 L178.4,932.5 L179.2,932.5 L180.1,932.5 L181.1,932.5 L182.1,932.4 L183.1,932.4 L184.2,932.3 L185.3,932.3 L186.5,932.3 L187.7,932.2 L189.0,932.2 L190.3,932.2 L191.6,932.1 L193.0,932.1 L194.4,932.0 L195.9,932.0 L197.4,931.9 L198.9,931.9 L200.4,931.9 L202.0,931.8 L203.6,931.8 L205.3,931.7 L206.9,931.7 L208.6,931.7 L210.3,931.6 L212.1,931.6 L213.8,931.6 L215.6,931.5 L217.4,931.5 L219.2,931.5 L221.1,931.4 L222.9,931.4 L224.8,931.4 L226.7,931.4 L228.5,931.4 L230.4,931.3 L232.4,931.3 L234.3,931.3 L236.2,931.3 L238.1,931.3 L240.1,931.3 L242.0,931.3 L244.0,931.3 L245.9,931.4 L247.8,931.4 L249.8,931.4 L251.7,931.4 L253.7,931.5 L255.6,931.5 L257.6,931.5 L259.5,931.6 L261.5,931.6 L263.4,931.6 L265.4,931.7 L267.3,931.7 L269.2,931.8 L271.2,931.8 L273.1,931.9 L275.1,932.0 L277.0,932.0 L279.0,932.1 L280.9,932.1 L282.9,932.2 L284.8,932.3 L286.7,932.3 L288.7,932.4 L290.6,932.4 L292.6,932.5 L294.5,932.6 L296.5,932.6 L298.4,932.7 L300.4,932.8 L302.3,932.8 L304.2,932.9 L306.2,932.9 L308.1,933.0 L310.1,933.0 L312.0,933.1 L314.0,933.1 L315.9,933.2 L317.9,933.2 L319.8,933.3 L321.8,933.3 L323.7,933.4 L325.6,933.4 L327.6,933.4 L329.5,933.5 L331.5,933.5 L333.4,933.5 L335.4,933.5 L337.3,933.6 L339.3,933.6 L341.2,933.6 L343.1,933.6 L345.1,933.6 L347.0,933.6 L349.0,933.6 L350.9,933.6 L352.9,933.6 L354.8,933.6 L356.8,933.6 L358.7,933.6 L360.7,933.6 L362.6,933.5 L364.5,933.5 L366.5,933.5 L368.4,933.5 L370.4,933.4 L372.3,933.4 L374.3,933.4 L376.2,933.3 L378.2,933.3 L380.1,933.3 L382.0,933.2 L384.0,933.2 L385.9,933.1 L387.9,933.1 L389.8,933.0 L391.8,932.9 L393.7,932.9 L395.7,932.8 L397.6,932.8 L399.6,932.7 L401.5,932.6 L403.4,932.5 L405.4,932.5 L407.3,932.4 L409.3,932.3 L411.2,932.2 L413.2,932.1 L415.1,932.0 L417.1,931.9 L419.0,931.8 L420.9,931.7 L422.9,931.6 L424.8,931.5 L426.8,931.4 L428.7,931.3 L430.7,931.2 L432.6,931.0 L434.6,930.9 L436.5,930.8 L438.5,930.6 L440.4,930.5 L442.3,930.3 L444.3,930.2 L446.2,930.0 L448.2,929.9 L450.1,929.7 L452.1,929.5 L454.0,929.4 L456.0,929.2 L457.9,929.0 L459.8,928.8 L461.8,928.6 L463.7,928.4 L465.7,928.2 L467.6,928.0 L469.6,927.7 L471.5,927.5 L473.5,927.3 L475.4,927.1 L477.4,926.8 L479.3,926.6 L481.2,926.3 L483.2,926.0 L485.1,925.8 L487.1,925.5 L489.0,925.2 L491.0,924.9 L492.9,924.6 L494.9,924.4 L496.8,924.1 L498.8,923.8 L500.7,923.4 L502.6,923.1 L504.6,922.8 L506.5,922.5 L508.5,922.2 L510.4,921.9 L512.4,921.5 L514.3,921.2 L516.3,920.9 L518.2,920.6 L520.1,920.2 L522.1,919.9 L524.0,919.6 L526.0,919.2 L527.9,918.9 L529.9,918.5 L531.8,918.2 L533.8,917.9 L535.7,917.5 L537.7,917.2 L539.6,916.9 L541.5,916.5 L543.5,916.2 L545.4,915.9 L547.4,915.5 L549.3,915.2 L551.3,914.9 L553.2,914.6 L555.2,914.3 L557.1,913.9 L559.0,913.6 L561.0,913.3 L562.9,913.0 L564.9,912.7 L566.8,912.4 L568.8,912.1 L570.7,911.8 L572.7,911.5 L574.6,911.2 L576.6,910.9 L578.5,910.6 L580.4,910.3 L582.4,910.0 L584.3,909.7 L586.3,909.3 L588.2,909.0 L590.2,908.7 L592.1,908.4 L594.1,908.0 L596.0,907.7 L597.9,907.4 L599.9,907.0 L601.8,906.6 L603.8,906.3 L605.7,905.9 L607.7,905.5 L609.6,905.1 L611.6,904.7 L613.5,904.3 L615.5,903.9 L617.4,903.5 L619.3,903.0 L621.3,902.6 L623.2,902.1 L625.2,901.6 L627.1,901.1 L629.1,900.6 L631.0,900.1 L633.0,899.5 L634.9,899.0 L636.8,898.4 L638.8,897.8 L640.7,897.2 L642.7,896.6 L644.6,896.0 L646.6,895.4 L648.5,894.7 L650.5,894.0 L652.4,893.4 L654.4,892.7 L656.3,892.0 L658.2,891.2 L660.2,890.5 L662.1,889.8 L664.1,889.0 L666.0,888.3 L668.0,887.5 L669.9,886.7 L671.9,886.0 L673.8,885.2 L675.7,884.4 L677.7,883.6 L679.6,882.8 L681.6,881.9 L683.5,881.1 L685.5,880.3 L687.4,879.4 L689.4,878.6 L691.3,877.8 L693.2,876.9 L695.2,876.1 L697.1,875.2 L699.1,874.4 L701.0,873.5 L703.0,872.6 L704.9,871.8 L706.9,870.9 L708.8,870.1 L710.8,869.2 L712.7,868.3 L714.6,867.5 L716.6,866.6 L718.5,865.7 L720.5,864.9 L722.4,864.0 L724.4,863.1 L726.3,862.3 L728.3,861.4 L730.2,860.5 L732.1,859.6 L734.1,858.8 L736.0,857.9 L738.0,857.0 L739.9,856.1 L741.9,855.2 L743.8,854.3 L745.8,853.3 L747.7,852.4 L749.7,851.5 L751.6,850.5 L753.5,849.6 L755.5,848.6 L757.4,847.7 L759.4,846.7 L761.3,845.7 L763.3,844.7 L765.2,843.6 L767.2,842.6 L769.1,841.6 L771.0,840.5 L773.0,839.4 L774.9,838.4 L776.9,837.3 L778.8,836.1 L780.8,835.0 L782.7,833.9 L784.7,832.7 L786.6,831.5 L788.6,830.3 L790.5,829.1 L792.4,827.9 L794.4,826.6 L796.3,825.3 L798.3,824.0 L800.2,822.7 L802.2,821.4 L804.1,820.0 L806.1,818.7 L808.0,817.3 L810.0,815.9 L811.9,814.5 L813.8,813.0 L815.8,811.6 L817.7,810.1 L819.7,808.6 L821.6,807.1 L823.6,805.6 L825.5,804.0 L827.5,802.4 L829.4,800.9 L831.3,799.3 L833.3,797.7 L835.2,796.0 L837.2,794.4 L839.1,792.7 L841.1,791.1 L843.0,789.4 L845.0,787.7 L846.9,785.9 L848.8,784.2 L850.8,782.4 L852.7,780.7 L854.7,778.9 L856.6,777.1 L858.6,775.3 L860.5,773.4 L862.5,771.6 L864.4,769.7 L866.4,767.8 L868.3,765.9 L870.2,764.0 L872.2,762.1 L874.1,760.2 L876.1,758.2 L878.0,756.3 L880.0,754.3 L881.9,752.3 L883.9,750.3 L885.8,748.3 L887.8,746.3 L889.7,744.2 L891.6,742.2 L893.6,740.1 L895.5,738.0 L897.5,735.9 L899.4,733.8 L901.4,731.7 L903.3,729.6 L905.3,727.4 L907.2,725.3 L909.1,723.1 L911.1,720.9 L913.0,718.7 L915.0,716.5 L916.9,714.3 L918.9,712.1 L920.8,709.9 L922.8,707.6 L924.7,705.4 L926.7,703.1 L928.6,700.9 L930.5,698.6 L932.5,696.3 L934.4,694.0 L936.4,691.7 L938.3,689.4 L940.3,687.0 L942.2,684.7 L944.2,682.4 L946.1,680.0 L948.0,677.7 L950.0,675.3 L951.9,672.9 L953.9,670.5 L955.8,668.1 L957.8,665.7 L959.7,663.3 L961.7,660.9 L963.6,658.5 L965.5,656.0 L967.5,653.6 L969.4,651.1 L971.4,648.7 L973.3,646.2 L975.3,643.7 L977.2,641.3 L979.2,638.8 L981.1,636.3 L983.1,633.8 L985.0,631.2 L986.9,628.7 L988.9,626.2 L990.8,623.6 L992.8,621.1 L994.7,618.5 L996.7,616.0 L998.6,613.4 L1000.6,610.8 L1002.5,608.2 L1004.5,605.6 L1006.4,603.0 L1008.3,600.4 L1010.3,597.8 L1012.2,595.1 L1014.2,592.5 L1016.1,589.9 L1018.1,587.2 L1020.0,584.5 L1022.0,581.9 L1023.9,579.2 L1025.8,576.5 L1027.8,573.8 L1029.7,571.1 L1031.7,568.4 L1033.6,565.7 L1035.6,562.9 L1037.5,560.2 L1039.5,557.4 L1041.4,554.7 L1043.3,551.9 L1045.3,549.1 L1047.2,546.3 L1049.2,543.5 L1051.1,540.7 L1053.1,537.9 L1055.0,535.0 L1057.0,532.2 L1058.9,529.3 L1060.9,526.4 L1062.8,523.5 L1064.7,520.6 L1066.7,517.7 L1068.6,514.8 L1070.6,511.8 L1072.5,508.9 L1074.5,505.9 L1076.4,502.9 L1078.4,499.9 L1080.3,496.9 L1082.2,493.9 L1084.2,490.8 L1086.1,487.8 L1088.1,484.7 L1090.0,481.6 L1092.0,478.5 L1093.9,475.4 L1095.9,472.2 L1097.8,469.1 L1099.8,465.9 L1101.7,462.7 L1103.6,459.5 L1105.6,456.3 L1107.5,453.0 L1109.5,449.8 L1111.4,446.5 L1113.4,443.2 L1115.3,439.9 L1117.3,436.6 L1119.2,433.3 L1121.2,430.0 L1123.1,426.7 L1125.0,423.3 L1127.0,420.0 L1128.9,416.7 L1130.9,413.3 L1132.8,410.0 L1134.8,406.6 L1136.7,403.3 L1138.7,399.9 L1140.6,396.6 L1142.5,393.3 L1144.5,389.9 L1146.4,386.6 L1148.4,383.3 L1150.3,380.0 L1152.3,376.7 L1154.2,373.4 L1156.2,370.1 L1158.1,366.9 L1160.1,363.6 L1162.0,360.4 L1163.9,357.2 L1165.9,354.0 L1167.8,350.8 L1169.8,347.6 L1171.7,344.5 L1173.7,341.4 L1175.6,338.3 L1177.6,335.2 L1179.5,332.1 L1181.4,329.1 L1183.4,326.1 L1185.3,323.2 L1187.3,320.2 L1189.2,317.3 L1191.2,314.4 L1193.1,311.5 L1195.1,308.6 L1197.0,305.8 L1198.9,303.0 L1200.9,300.2 L1202.8,297.4 L1204.8,294.7 L1206.7,292.0 L1208.7,289.2 L1210.6,286.5 L1212.6,283.9 L1214.5,281.2 L1216.5,278.5 L1218.4,275.9 L1220.3,273.3 L1222.3,270.7 L1224.2,268.1 L1226.2,265.5 L1228.1,263.0 L1230.1,260.4 L1232.0,257.9 L1234.0,255.4 L1235.9,252.8 L1237.8,250.3 L1239.8,247.8 L1241.7,245.4 L1243.7,242.9 L1245.6,240.4 L1247.6,237.9 L1249.5,235.5 L1251.5,233.0 L1253.4,230.6 L1255.4,228.2 L1257.3,225.7 L1259.2,223.3 L1261.2,220.9 L1263.1,218.4 L1265.1,216.0 L1267.0,213.6 L1269.0,211.2 L1270.9,208.8 L1272.9,206.5 L1274.8,204.1 L1276.8,201.7 L1278.7,199.4 L1280.6,197.1 L1282.6,194.7 L1284.5,192.4 L1286.5,190.1 L1288.4,187.9 L1290.4,185.6 L1292.3,183.3 L1294.3,181.1 L1296.2,178.9 L1298.1,176.7 L1300.1,174.6 L1302.0,172.4 L1304.0,170.3 L1305.9,168.2 L1307.9,166.1 L1309.8,164.0 L1311.8,162.0 L1313.7,160.0 L1315.7,158.0 L1317.6,156.1 L1319.5,154.1 L1321.5,152.2 L1323.4,150.4 L1325.4,148.5 L1327.3,146.7 L1329.3,144.9 L1331.2,143.2 L1333.2,141.5 L1335.1,139.8 L1337.0,138.1 L1339.0,136.5 L1340.9,134.9 L1342.9,133.4 L1344.8,131.9 L1346.7,130.4 L1348.6,129.0 L1350.6,127.5 L1352.5,126.2 L1354.3,124.8 L1356.2,123.5 L1358.1,122.2 L1359.9,120.9 L1361.8,119.7 L1363.6,118.5 L1365.4,117.4 L1367.2,116.2 L1368.9,115.1 L1370.7,114.0 L1372.4,113.0 L1374.1,112.0 L1375.7,111.0 L1377.4,110.0 L1379.0,109.1 L1380.6,108.2 L1382.1,107.3 L1383.6,106.5 L1385.1,105.7 L1386.6,104.9 L1388.0,104.1 L1389.4,103.4 L1390.7,102.7 L1392.0,102.0 L1393.3,101.4 L1394.5,100.7 L1395.7,100.1 L1396.8,99.5 L1397.9,99.0 L1398.9,98.5 L1399.9,98.0 L1400.9,97.5 L1401.8,97.0 L1402.7,96.6 L1403.5,96.1 L1404.3,95.8 L1405.0,95.4 L1405.7,95.0 L1406.4,94.7 L1407.0,94.4 L1407.6,94.1 L1408.1,93.8 L1408.6,93.6 L1409.1,93.4 L1409.5,93.1 L1409.9,92.9 L1410.2,92.8 L1410.6,92.6 L1410.9,92.4 L1411.2,92.3 L1411.4,92.2 L1411.6,92.1 L1411.8,92.0 L1412.0,91.9 L1412.2,91.8 L1412.3,91.7 L1412.4,91.7 L1412.5,91.6 L1412.6,91.6 L1412.7,91.5 L1412.7,91.5 L1412.8,91.5 L1412.8,91.5 L1412.9,91.4 L1412.9,91.4 L1412.9,91.4 L1412.9,91.4 L1412.9,91.4 L1412.9,91.4 L1412.9,91.4" stroke="#00f" stroke-width="6" fill="none" stroke-linejoin="round"/>
<rect x="235.4" y="919.8" width="21" height="21" rx="1" fill="#00f"/>
<rect x="313.2" y="923.7" width="21" height="21" rx="1" fill="#00f"/>
<rect x="391.0" y="922.8" width="21" height="21" rx="1" fill="#00f"/>
<rect x="468.8" y="917.7" width="21" height="21" rx="1" fill="#00f"/>
<rect x="546.6" y="902.6" width="21" height="21" rx="1" fill="#00f"/>
<rect x="624.4" y="892.7" width="21" height="21" rx="1" fill="#00f"/>
<rect x="702.2" y="857.7" width="21" height="21" rx="1" fill="#00f"/>
<rect x="780.0" y="823.6" width="21" height="21" rx="1" fill="#00f"/>
<rect x="857.8" y="759.3" width="21" height="21" rx="1" fill="#00f"/>
<rect x="935.6" y="671.7" width="21" height="21" rx="1" fill="#00f"/>
<rect x="1013.4" y="570.9" width="21" height="21" rx="1" fill="#00f"/>
<rect x="1091.2" y="456.9" width="21" height="21" rx="1" fill="#00f"/>
<rect x="1169.0" y="314.7" width="21" height="21" rx="1" fill="#00f"/>
<rect x="1246.8" y="214.1" width="21" height="21" rx="1" fill="#00f"/>
<rect x="1324.6" y="120.2" width="21" height="21" rx="1" fill="#00f"/>
<rect x="1402.4" y="80.9" width="21" height="21" rx="1" fill="#00f"/>
</g>
<g font-weight="bold" font-size="48" fill="#000" filter="url(#cr)">
<text x="176.8" y="949.0" text-anchor="end">0</text>
<text x="176.8" y="780.2" text-anchor="end">20</text>
<text x="176.8" y="611.4" text-anchor="end">40</text>
<text x="176.8" y="442.6" text-anchor="end">60</text>
<text x="176.8" y="273.8" text-anchor="end">80</text>
<text x="176.8" y="105.0" text-anchor="end">100</text>
<text x="207.0" y="1003" text-anchor="middle">150</text>
<text x="401.5" y="1003" text-anchor="middle">200</text>
<text x="596.0" y="1003" text-anchor="middle">250</text>
<text x="790.5" y="1003" text-anchor="middle">300</text>
<text x="985.0" y="1003" text-anchor="middle">350</text>
<text x="1179.5" y="1003" text-anchor="middle">400</text>
<text x="1374.0" y="1003" text-anchor="middle">450</text>
</g>
<g stroke-width="6" stroke-linecap="round">
<line x1="295" y1="181" x2="401" y2="181" stroke="#000"/>
<line x1="295" y1="254" x2="401" y2="254" stroke="#f00"/>
<line x1="295" y1="326.5" x2="401" y2="326.5" stroke="#00f" stroke-width="5"/>
</g>
<rect x="337" y="171" width="21" height="21" rx="1" fill="#000"/>
<circle cx="347.5" cy="254" r="12" fill="#f00"/>
<rect x="337" y="316" width="21" height="21" rx="1" fill="#00f"/>
<g font-size="51.5" fill="#000" filter="url(#cr)">
<text transform="translate(413,197.5) scale(0.937,1)">Co<tspan font-size="29.5" dy="16.7">3</tspan><tspan dy="-16.7">O</tspan><tspan font-size="29.5" dy="16.7">4</tspan><tspan dy="-16.7">-c</tspan></text>
<text transform="translate(413,270.5) scale(0.937,1)">Co<tspan font-size="29.5" dy="16.7">3</tspan><tspan dy="-16.7">O</tspan><tspan font-size="29.5" dy="16.7">4</tspan><tspan dy="-16.7">-s</tspan></text>
<text transform="translate(413,343.5) scale(0.937,1)">Co<tspan font-size="29.5" dy="16.7">3</tspan><tspan dy="-16.7">O</tspan><tspan font-size="29.5" dy="16.7">4</tspan><tspan dy="-16.7">-com</tspan></text>
</g>
<g font-weight="bold" font-size="52" fill="#000" filter="url(#cr)">
<text transform="translate(614.2,1075) scale(0.999,1)">Temperature<tspan dx="-2"> (</tspan><tspan font-size="30" dy="-25.5" dx="0.3">o</tspan><tspan dy="25.5" dx="0.7">C</tspan><tspan dx="-1">)</tspan></text>
<text transform="translate(70,746.4) rotate(-90) scale(0.994,1)">VC Conversion (%)</text>
</g>
</svg>
</body></html>
